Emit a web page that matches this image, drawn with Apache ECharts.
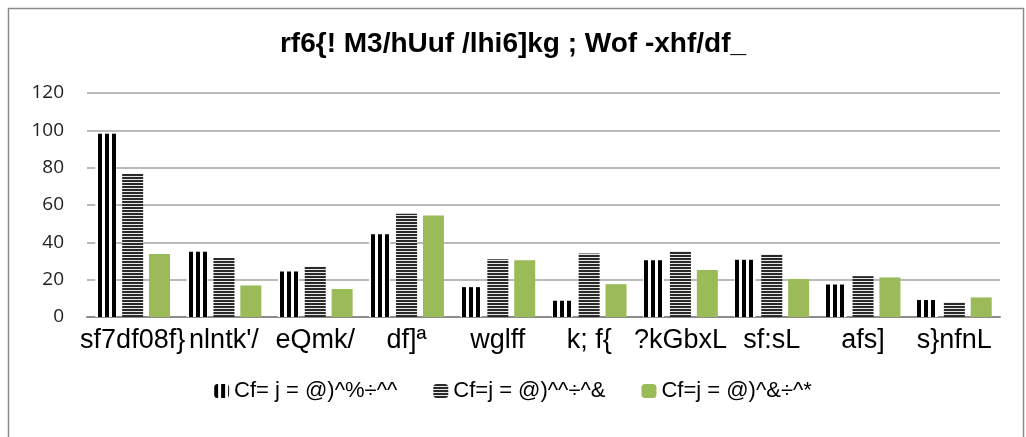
<!DOCTYPE html>
<html>
<head>
<meta charset="utf-8">
<script src="https://cdn.jsdelivr.net/npm/echarts@6/dist/echarts.min.js"></script>
<style>
html,body{margin:0;padding:0;background:#fff;}
#c{width:1026px;height:437px;}
</style>
</head>
<body>
<div id="c"></div>
<script>
var titleText = "rf6{! M3/hUuf /lhi6]kg ; Wof -xhf/df_";
var categories = ["sf7df08f}", "nlntk'/", "eQmk/", "df]ª", "wglff", "k; f{", "?kGbxL", "sf:sL", "afs]", "s}nfnL"];
var seriesNames = ["Cf= j = @)^%÷^^", "Cf=j = @)^^÷^&", "Cf=j = @)^&÷^*"];
var series1 = [98.2, 35, 24.4, 44.3, 16, 8.7, 30.4, 30.7, 17.4, 9.1];
var series2 = [76.8, 31.6, 27.1, 55.3, 30.9, 34, 35.4, 33.6, 21.9, 8];
var series3 = [33.7, 16.9, 15, 54.4, 30.4, 17.6, 25.2, 20.4, 21.2, 10.5];
var yTicks = [0, 20, 40, 60, 80, 100, 120];

function vStripes() {
  var c = document.createElement('canvas');
  c.width = 7; c.height = 2;
  var g = c.getContext('2d');
  g.fillStyle = '#ffffff'; g.fillRect(0, 0, 7, 2);
  g.fillStyle = '#000000'; g.fillRect(0, 0, 4, 2);
  return c;
}
function hStripes() {
  var c = document.createElement('canvas');
  c.width = 2; c.height = 3;
  var g = c.getContext('2d');
  g.fillStyle = '#e8e8e8'; g.fillRect(0, 0, 2, 3);
  g.fillStyle = '#2a2a2a'; g.fillRect(0, 0, 2, 2);
  return c;
}

var narrow = "'Liberation Sans Narrow', 'Arial Narrow', 'Liberation Sans', sans-serif";
var chart = echarts.init(document.getElementById('c'), null, {renderer: 'canvas'});
chart.setOption({
  animation: false,
  backgroundColor: '#ffffff',
  graphic: [{
    type: 'rect', shape: {x: 8.5, y: 8.5, width: 1015, height: 440},
    style: {fill: 'none', stroke: '#8c8c8c', lineWidth: 1.5}, silent: true, z: -10
  }],
  title: {
    text: titleText, left: 'center', top: 25,
    textStyle: {fontFamily: narrow, fontWeight: 'bold', fontSize: 28, color: '#000'}
  },
  legend: {
    bottom: 30, left: 'center',
    itemWidth: 15, itemHeight: 14, itemGap: 36,
    textStyle: {fontFamily: narrow, fontSize: 22, color: '#000'},
    data: seriesNames
  },
  grid: {left: 87, right: 26, top: 93, bottom: 120},
  xAxis: {
    type: 'category', data: categories,
    axisLine: {lineStyle: {color: '#8c8c8c', width: 2}},
    axisTick: {show: false},
    axisLabel: {fontFamily: narrow, fontSize: 27, color: '#000', margin: 10, interval: 0}
  },
  yAxis: {
    type: 'value', min: 0, max: 120, interval: 20,
    axisLine: {show: false}, axisTick: {show: false},
    axisLabel: {fontFamily: "'Open Sans', sans-serif", fontSize: 19, color: '#222', margin: 23},
    splitLine: {lineStyle: {color: '#a3a3a3', width: 1.5}}
  },
  series: [
    {name: seriesNames[0], type: 'bar', data: series1, barWidth: 21, barGap: '28%',
      itemStyle: {color: {image: vStripes(), repeat: 'repeat'}}},
    {name: seriesNames[1], type: 'bar', data: series2, barWidth: 21, barGap: '28%',
      itemStyle: {color: {image: hStripes(), repeat: 'repeat'}}},
    {name: seriesNames[2], type: 'bar', data: series3, barWidth: 21, barGap: '28%',
      itemStyle: {color: '#9bbb59'}}
  ]
});
</script>
</body>
</html>
